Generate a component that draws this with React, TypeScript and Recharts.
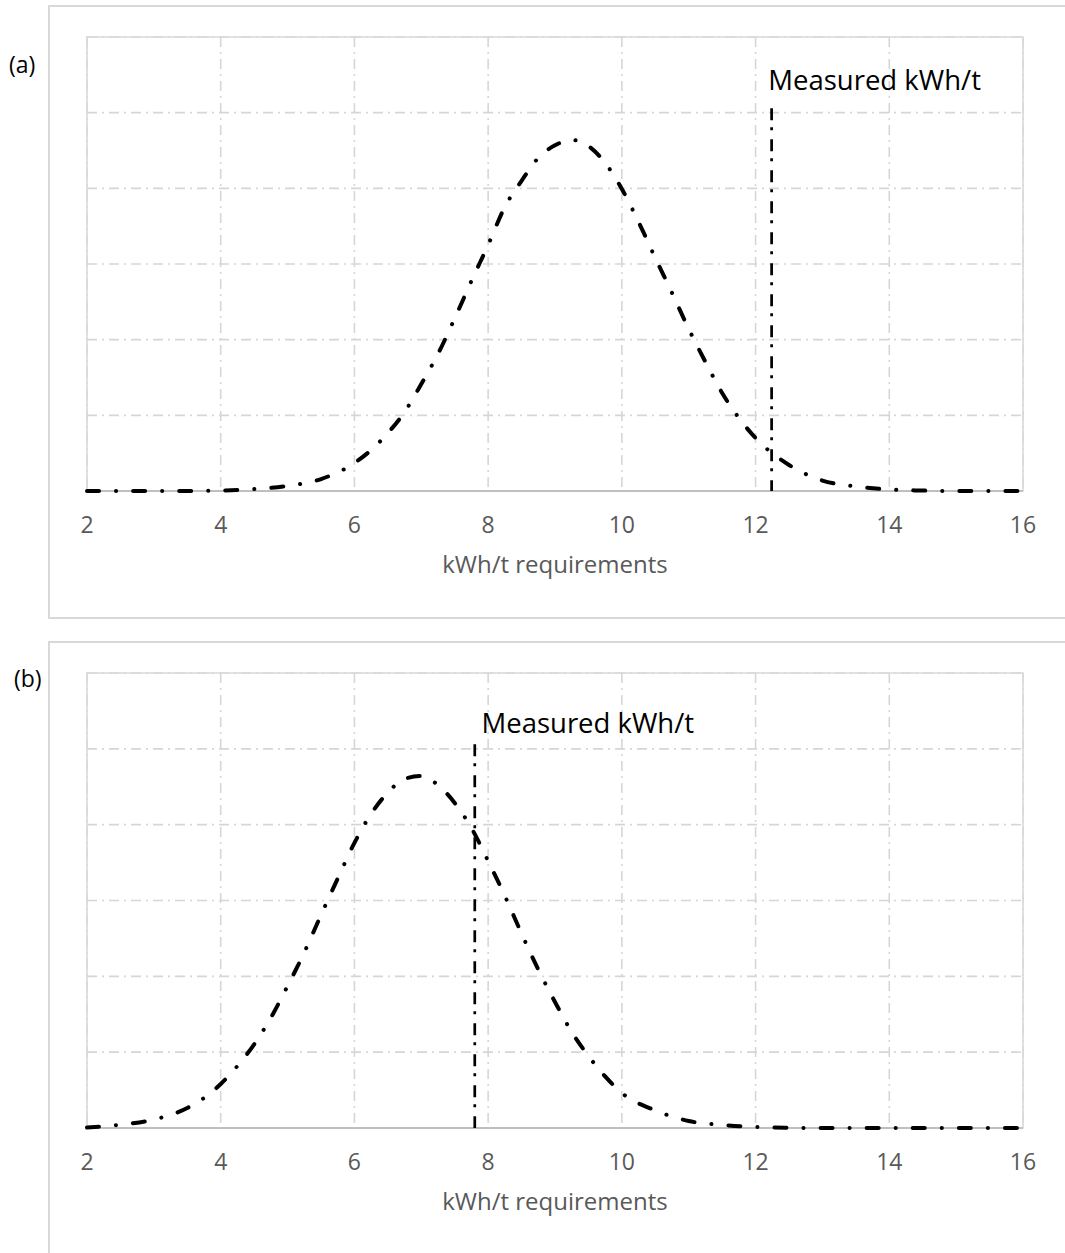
import React from "react";
import {
  LineChart,
  Line,
  XAxis,
  YAxis,
  CartesianGrid,
  ReferenceLine,
  ReferenceDot,
  ReferenceArea,
  Label,
} from "recharts";

const xTicks = [2, 4, 6, 8, 10, 12, 14, 16];
const yTicks = [0, 0.05, 0.1, 0.15, 0.2, 0.25, 0.3];

// (a) kWh/t requirement distribution
const energyA = [
  2, 2.5, 3, 3.5, 4, 4.5, 5, 5.5, 6, 6.25, 6.5, 6.75, 7, 7.25, 7.5, 7.75, 8,
  8.25, 8.5, 8.75, 9, 9.25, 9.5, 9.75, 10, 10.25, 10.5, 10.75, 11, 11.25, 11.5,
  11.75, 12, 12.5, 13, 13.5, 14, 14.5, 15, 15.5, 16,
];
const densityA = [
  0, 0, 0, 0, 0.0003, 0.0013, 0.0033, 0.0079, 0.0185, 0.0271, 0.0383, 0.0522,
  0.0707, 0.0906, 0.114, 0.1388, 0.1626, 0.1877, 0.205, 0.2201, 0.2284, 0.232,
  0.2279, 0.2168, 0.1996, 0.1778, 0.154, 0.1309, 0.1071, 0.0853, 0.0648, 0.0483,
  0.035, 0.0172, 0.0069, 0.003, 0.001, 0.0003, 0, 0, 0,
];

// (b) kWh/t requirement distribution
const energyB = [
  2, 2.5, 3, 3.5, 3.75, 4, 4.25, 4.5, 4.75, 5, 5.25, 5.5, 5.75, 6, 6.25, 6.5,
  6.75, 7, 7.25, 7.5, 7.75, 8, 8.25, 8.5, 8.75, 9, 9.25, 9.5, 9.75, 10, 10.5, 11,
  11.5, 12, 12.5, 13, 14, 15, 16,
];
const densityB = [
  0.0003, 0.0022, 0.0056, 0.0132, 0.0198, 0.029, 0.0409, 0.0552, 0.0727, 0.0936,
  0.1158, 0.1404, 0.1645, 0.188, 0.2072, 0.2212, 0.2301, 0.2321, 0.2261, 0.2143,
  0.1978, 0.176, 0.153, 0.1282, 0.1045, 0.0831, 0.0633, 0.0475, 0.034, 0.0231,
  0.0116, 0.0046, 0.002, 0.0007, 0.0002, 0, 0, 0, 0,
];

const measuredA = 12.24;
const measuredB = 7.8;
const measuredTop = 0.253;

const font = "'Open Sans', sans-serif";

interface PanelProps {
  energy: number[];
  density: number[];
  measured: number;
  noteX: number;
  noteY: number;
  top: number;
  marginTop: number;
}

function Panel({ energy, density, measured, noteX, noteY, top, marginTop }: PanelProps) {
  const data = energy.map((x, i) => ({ x, v: density[i] }));
  return (
    <div style={{ position: "absolute", left: 0, top }}>
      <LineChart
        width={1065}
        height={620}
        data={data}
        margin={{ top: marginTop, right: 42, bottom: 29, left: 87 }}
      >
        <CartesianGrid stroke="#d6d6d6" strokeWidth={1.6} strokeDasharray="10 5 2 5" />
        <ReferenceArea x1={2} x2={16} y1={0} y2={0.3} fill="none" stroke="#d9d9d9" strokeWidth={1.6} />
        {/* baseline drawn as a reference line so the curve sits on top of it */}
        <ReferenceLine y={0} stroke="#bfbfbf" strokeWidth={1.8} />
        <XAxis
          type="number"
          dataKey="x"
          domain={[2, 16]}
          ticks={xTicks}
          axisLine={false}
          tickLine={false}
          tickSize={0}
          tickMargin={0}
          height={100}
          tick={(p: any) => (
            <text
              x={p.x}
              y={p.y + 42}
              textAnchor="middle"
              fill="#595959"
              fontSize={23}
              fontFamily={font}
            >
              {p.payload.value}
            </text>
          )}
        >
          <Label
            content={(p: any) => (
              <text
                x={p.viewBox.x + p.viewBox.width / 2}
                y={p.viewBox.y + 82}
                textAnchor="middle"
                fill="#595959"
                fontSize={24}
                fontFamily={font}
              >
                kWh/t requirements
              </text>
            )}
          />
        </XAxis>
        <YAxis hide type="number" domain={[0, 0.3]} ticks={yTicks} />
        <Line
          type="monotone"
          dataKey="v"
          stroke="#000"
          strokeWidth={4}
          strokeDasharray="12 17 0.1 17"
          strokeLinecap="round"
          dot={false}
          isAnimationActive={false}
        />
        <ReferenceLine
          segment={[
            { x: measured, y: measuredTop },
            { x: measured, y: 0 },
          ]}
          stroke="#000"
          strokeWidth={2.7}
          strokeDasharray="12 7 3 9"
        />
        <ReferenceDot
          x={noteX}
          y={noteY}
          r={0}
          fill="none"
          stroke="none"
          label={(p: any) => (
            <text
              x={p.viewBox.x}
              y={p.viewBox.y}
              textAnchor="start"
              fill="#000"
              fontSize={27.5}
              fontFamily={font}
            >
              Measured kWh/t
            </text>
          )}
        />
      </LineChart>
    </div>
  );
}

const boxStyle: React.CSSProperties = {
  position: "absolute",
  left: 48,
  width: 1100,
  border: "2px solid #d9d9d9",
  boxSizing: "border-box",
};

const tagStyle: React.CSSProperties = {
  position: "absolute",
  fontFamily: font,
  fontSize: 23,
  lineHeight: "28px",
  color: "#000",
};

export default function App() {
  return (
    <div
      style={{
        position: "absolute",
        left: 0,
        top: 0,
        width: 1065,
        height: 1253,
        overflow: "hidden",
        background: "#fff",
      }}
    >
      <div style={{ ...boxStyle, top: 5, height: 614 }} />
      <div style={{ ...boxStyle, top: 641, height: 700 }} />
      <div style={{ ...tagStyle, left: 9, top: 50 }}>(a)</div>
      <div style={{ ...tagStyle, left: 14, top: 664 }}>(b)</div>
      <Panel
        energy={energyA}
        density={densityA}
        measured={measuredA}
        noteX={12.19}
        noteY={0.265}
        top={0}
        marginTop={37}
      />
      <Panel
        energy={energyB}
        density={densityB}
        measured={measuredB}
        noteX={7.9}
        noteY={0.2604}
        top={637}
        marginTop={36}
      />
    </div>
  );
}
